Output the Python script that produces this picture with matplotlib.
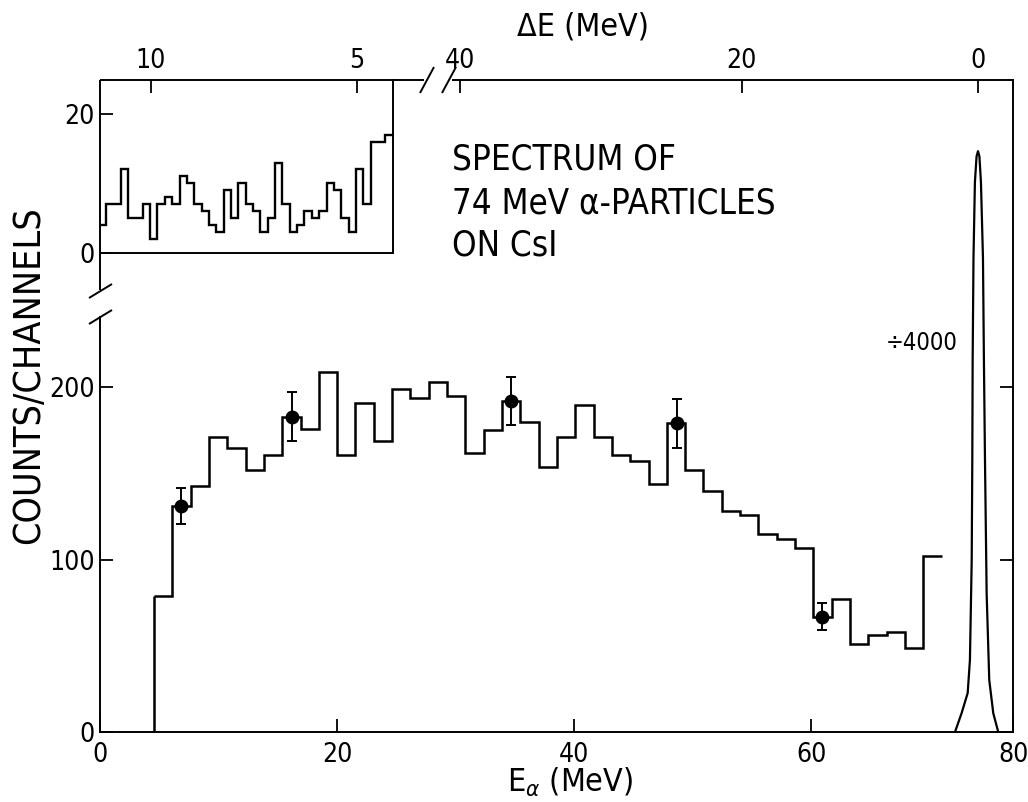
import numpy as np
import matplotlib.pyplot as plt
from matplotlib.lines import Line2D

plt.rcParams['font.family'] = ['DejaVu Sans']
plt.rcParams['font.stretch'] = 'condensed'

# spectre principal: 43 canaux d'environ 1.55 MeV entre 4.5 et 71 MeV
e_first_edge = 4.53
e_last_edge = 71.0
counts = [79, 131, 143, 171, 165, 152, 161, 183, 176, 209, 161, 191, 169, 199, 194, 203, 195,
          162, 175, 192, 180, 154, 171, 190, 171, 161, 157, 144, 179, 152, 140, 128, 126, 115,
          112, 107, 67, 77, 51, 56, 58, 49, 102]

# points avec barres d'erreur
pts_e = [6.8, 16.2, 34.7, 48.7, 60.9]
pts_counts = [131, 183, 192, 179, 67]
pts_err = [10.5, 14, 13.7, 14, 7.6]

# pic elastique (divise par 4000)
peak_e = [72.13, 72.69, 73.20, 73.39, 73.54, 73.59, 73.62, 73.69, 73.81, 73.95, 74.07,
          74.19, 74.32, 74.49, 74.57, 74.66, 74.80, 75.02, 75.36, 75.78]
peak_counts = [0, 11, 22.6, 41.8, 100, 158, 216, 275, 319, 334, 337,
               334, 319, 275, 216, 158, 80.5, 30.2, 10.9, 0]

# encart: Delta E de 11.3 a 4.1 MeV, 40 canaux
de_first_edge = 11.27
de_last_edge = 4.125
inset_counts = [4, 7, 7, 12, 5, 5, 7, 2, 7, 8, 7, 11, 10, 7, 6, 4, 3, 9, 5, 10,
                7, 6, 3, 5, 13, 7, 3, 4, 6, 5, 6, 10, 9, 5, 3, 12, 7, 16, 16, 17]

# axe superieur Delta E place sur l'echelle E_alpha
de_ticks = ['40', '20', '0']
de_tick_e = [30.35, 54.13, 74.09]

W, H = 1028, 802


def fx(x):
    return x / W


def fy(y):
    return 1 - y / H


def fig_line(fig, x0, y0, x1, y1, lw=1.4):
    fig.add_artist(Line2D([fx(x0), fx(x1)], [fy(y0), fy(y1)], transform=fig.transFigure,
                          color='black', lw=lw, solid_capstyle='butt'))


fig = plt.figure(figsize=(W / 100, H / 100), dpi=100)

ax = fig.add_axes([fx(100.3), fy(732), fx(1013.3) - fx(100.3), fy(80) - fy(732)])
ax.set_xlim(0, 77.05)
ax.set_ylim(0, 378.3)

edges = np.linspace(e_first_edge, e_last_edge, len(counts) + 1)
ax.stairs(counts, edges, baseline=None, color='black', lw=1.8)
ax.vlines(edges[0], 0, counts[0], color='black', lw=1.8)
ax.errorbar(pts_e, pts_counts, yerr=pts_err, fmt='o', color='black', ms=9,
            capsize=3.5, elinewidth=1.4, capthick=1.4)
ax.plot(peak_e, peak_counts, color='black', lw=1.6)

ax.spines['top'].set_visible(False)
ax.spines['left'].set_visible(False)
for s in ['bottom', 'right']:
    ax.spines[s].set_linewidth(1.4)
ax.set_xticks([0, 20, 40, 60, 77.05], ['0', '20', '40', '60', '80'])
ax.set_yticks([0, 100, 200])
ax.tick_params(direction='in', length=9.5, width=1.3, labelsize=19)
ax.tick_params(axis='x', pad=7)
ax.tick_params(axis='y', right=True, pad=4)

ax2 = ax.twiny()
ax2.set_xlim(ax.get_xlim())
ax2.set_xticks(de_tick_e, de_ticks)
for s in ax2.spines.values():
    s.set_visible(False)
ax2.tick_params(direction='in', length=9.5, width=1.3, labelsize=19, pad=4)

# encart
axi = fig.add_axes([fx(100.3), fy(252.7), fx(392.7) - fx(100.3), fy(80) - fy(252.7)])
axi.patch.set_alpha(0)
axi.set_xlim(11.23, 4.125)
axi.set_ylim(0, 24.9)
inset_edges = np.linspace(de_first_edge, de_last_edge, len(inset_counts) + 1)
axi.stairs(inset_counts, inset_edges, baseline=None, color='black', lw=1.7)
axi.spines['top'].set_visible(False)
axi.spines['left'].set_visible(False)
for s in ['bottom', 'right']:
    axi.spines[s].set_linewidth(1.4)
axi.xaxis.tick_top()
axi.set_xticks([10, 5])
axi.set_yticks([0, 20])
axi.tick_params(direction='in', length=9.5, width=1.3, labelsize=19, pad=4)

# axes dessines a la main avec coupures
fig_line(fig, 100.3, 80, 100.3, 290)
fig_line(fig, 100.3, 316, 100.3, 732)
fig_line(fig, 89, 298, 112, 284)
fig_line(fig, 89, 324, 112, 310)
fig_line(fig, 100.3, 80, 424, 80)
fig_line(fig, 452, 80, 1013.3, 80)
fig_line(fig, 420, 93, 434, 67)
fig_line(fig, 442, 93, 456, 67)

fig.text(fx(452), fy(160), 'SPECTRUM OF', fontsize=25, va='center', ha='left')
fig.text(fx(452), fy(203), '74 MeV α-PARTICLES', fontsize=25, va='center', ha='left')
fig.text(fx(452), fy(245), 'ON CsI', fontsize=25, va='center', ha='left')
fig.text(fx(958), fy(343), '÷4000', fontsize=17, va='center', ha='right')

fig.text(fx(29), fy(375), 'COUNTS/CHANNELS', fontsize=27, rotation=90, ha='center', va='center')
fig.text(fx(570), fy(782), 'E$_\\alpha$ (MeV)', fontsize=23, ha='center', va='center')
fig.text(fx(583), fy(27), 'ΔE (MeV)', fontsize=23, ha='center', va='center')

fig.savefig('out.png', dpi=100)
